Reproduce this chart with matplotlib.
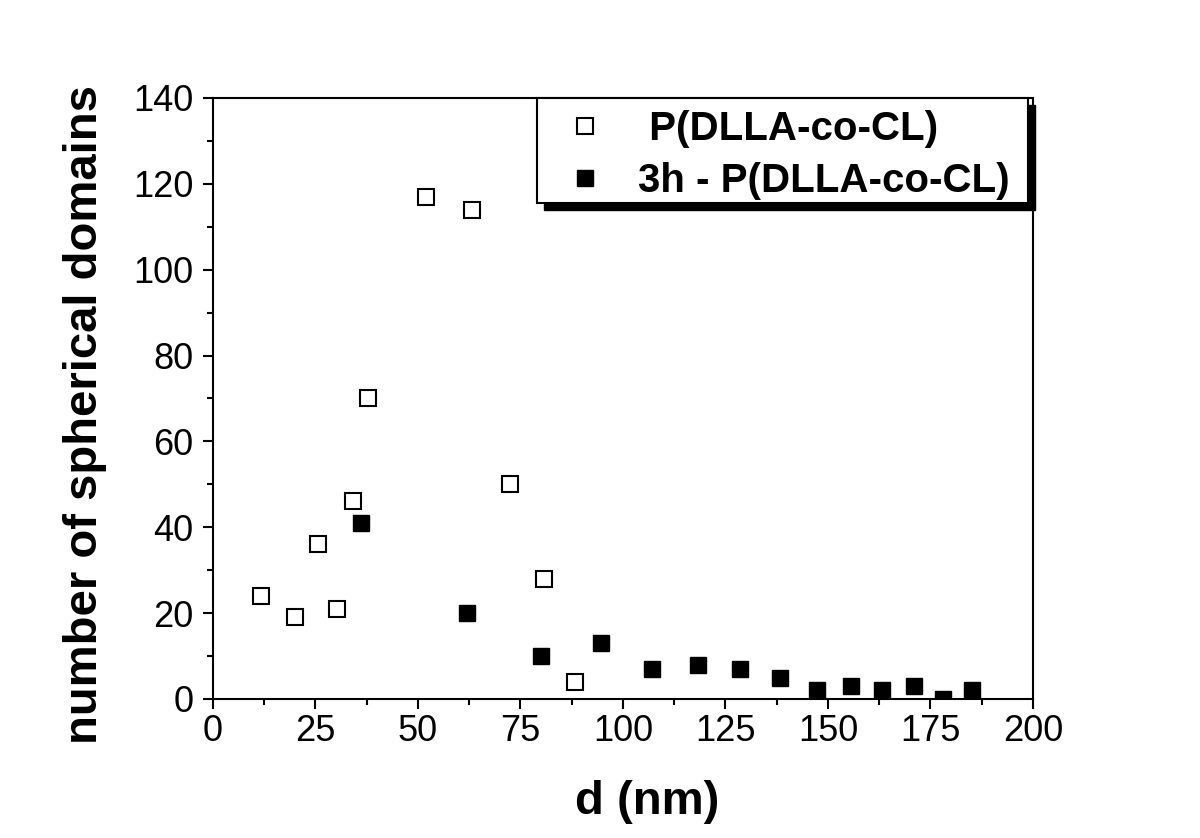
import numpy as np
import matplotlib.pyplot as plt
from matplotlib.patches import Rectangle
from matplotlib.ticker import MultipleLocator

plt.rcParams['font.family'] = ['Liberation Sans', 'DejaVu Sans']

# P(DLLA-co-CL) 原始样品
d_raw = [11.7, 20, 25.6, 30.2, 34.1, 37.8, 52, 63.2, 72.4, 80.7, 88.3]
n_raw = [24, 19, 36, 21, 46, 70, 117, 114, 50, 28, 4]

# 3h 处理后
d_3h = [36.1, 62, 80, 94.6, 107, 118.3, 128.5, 138.3, 147.3, 155.6, 163.2, 171, 178, 185.1]
n_3h = [41, 20, 10, 13, 7, 8, 7, 5, 2, 3, 2, 3, 0, 2]

fig = plt.figure(figsize=(12, 8.38), dpi=100)
ax = fig.add_axes([0.1775, 0.1659, 0.6833, 0.7172])

ax.plot(d_raw, n_raw, 's', ms=12, mfc='white', mec='black', mew=1.5,
        label=' P(DLLA-co-CL)', zorder=3)
ax.plot(d_3h, n_3h, 's', ms=12, mfc='black', mec='black', mew=1,
        label='3h - P(DLLA-co-CL)', zorder=3)

ax.set_xlim(0, 200)
ax.set_ylim(0, 140)
ax.xaxis.set_major_locator(MultipleLocator(25))
ax.xaxis.set_minor_locator(MultipleLocator(12.5))
ax.yaxis.set_major_locator(MultipleLocator(20))
ax.yaxis.set_minor_locator(MultipleLocator(10))
ax.tick_params(which='both', direction='out', width=1.5, labelsize=26,
               top=False, right=False)
ax.tick_params(which='major', length=7)
ax.tick_params(which='minor', length=4)
ax.tick_params(axis='x', pad=4)
ax.tick_params(axis='y', pad=7)
for s in ax.spines.values():
    s.set_linewidth(1.5)

ax.set_xlabel('d (nm)', fontsize=34, fontweight='bold')
ax.set_ylabel('number of spherical domains', fontsize=34, fontweight='bold')
ax.xaxis.set_label_coords(0.53, -0.135)
ax.yaxis.set_label_coords(-0.129, 0.474)

# 图例（带黑色阴影）
x0, y0, w, h = 0.395, 0.825, 0.599, 0.175
ax.add_patch(Rectangle((x0 + 0.009, y0 - 0.012), w, h, transform=ax.transAxes,
                       facecolor='black', edgecolor='black', clip_on=False, zorder=4))
ax.add_patch(Rectangle((x0, y0), w, h, transform=ax.transAxes,
                       facecolor='white', edgecolor='black', lw=1.5, clip_on=False, zorder=5))
leg = ax.legend(loc='center left', bbox_to_anchor=(0.4293, 0.905),
                frameon=False, prop={'size': 29, 'weight': 'bold'},
                markerscale=1.0, handlelength=1.0, handletextpad=0.8,
                labelspacing=0.35, borderpad=0, borderaxespad=0)
leg.set_zorder(6)

fig.savefig('out.png', dpi=100)
